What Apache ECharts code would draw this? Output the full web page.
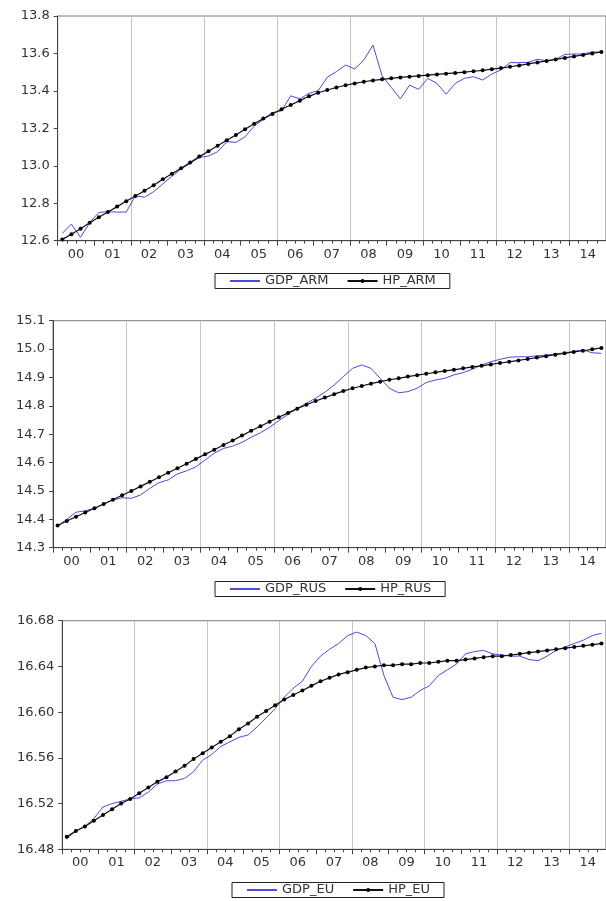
<!DOCTYPE html>
<html>
<head>
<meta charset="utf-8">
<script src="https://cdn.jsdelivr.net/npm/echarts@6/dist/echarts.min.js"></script>
<style>
html,body{margin:0;padding:0;background:#fff;}
#chart{width:606px;height:901px;}
</style>
</head>
<body>
<div id="chart"></div>
<script>
// ---- Data (quarterly, 2000Q1 .. 2014Q4) ----
const yearLabels = ['00','01','02','03','04','05','06','07','08','09','10','11','12','13','14'];

const gdpArm = [12.639,12.689,12.618,12.696,12.751,12.755,12.753,12.753,12.839,12.832,
  12.862,12.903,12.945,12.983,13.013,13.045,13.052,13.075,13.129,13.125,
  13.155,13.212,13.248,13.284,13.294,13.374,13.357,13.387,13.401,13.473,
  13.503,13.538,13.517,13.565,13.645,13.480,13.419,13.357,13.431,13.408,
  13.467,13.440,13.382,13.440,13.467,13.476,13.458,13.490,13.512,13.551,
  13.551,13.553,13.569,13.561,13.569,13.595,13.597,13.597,13.609,13.605];
const hpArm = [12.607,12.634,12.664,12.696,12.725,12.753,12.782,12.811,12.839,12.867,
  12.896,12.928,12.958,12.987,13.017,13.049,13.078,13.107,13.136,13.165,
  13.195,13.225,13.252,13.277,13.302,13.325,13.348,13.371,13.390,13.405,
  13.418,13.430,13.440,13.449,13.456,13.462,13.467,13.472,13.476,13.480,
  13.484,13.488,13.492,13.496,13.500,13.505,13.510,13.516,13.522,13.529,
  13.536,13.544,13.552,13.560,13.568,13.576,13.584,13.592,13.600,13.608];

const gdpRus = [14.376,14.400,14.425,14.430,14.439,14.454,14.468,14.476,14.474,14.486,
  14.509,14.529,14.539,14.560,14.571,14.585,14.609,14.633,14.650,14.658,
  14.671,14.689,14.705,14.724,14.748,14.770,14.791,14.809,14.827,14.848,
  14.873,14.903,14.932,14.944,14.932,14.897,14.862,14.846,14.850,14.862,
  14.882,14.891,14.897,14.909,14.917,14.929,14.944,14.955,14.964,14.971,
  14.973,14.973,14.976,14.979,14.983,14.987,14.992,14.997,14.987,14.985];
const hpRus = [14.378,14.394,14.409,14.424,14.439,14.454,14.469,14.485,14.500,14.516,
  14.532,14.548,14.564,14.580,14.596,14.613,14.629,14.645,14.662,14.678,
  14.695,14.712,14.728,14.744,14.760,14.775,14.790,14.804,14.817,14.829,
  14.841,14.852,14.862,14.870,14.878,14.885,14.892,14.897,14.903,14.908,
  14.913,14.918,14.923,14.927,14.932,14.937,14.941,14.946,14.951,14.955,
  14.960,14.965,14.970,14.975,14.980,14.985,14.990,14.994,14.999,15.004];

const gdpEu = [16.489,16.496,16.500,16.507,16.517,16.520,16.522,16.524,16.525,16.530,
  16.537,16.540,16.540,16.542,16.548,16.558,16.563,16.570,16.574,16.578,
  16.580,16.587,16.595,16.603,16.613,16.621,16.627,16.640,16.649,16.655,
  16.660,16.667,16.670,16.667,16.660,16.632,16.613,16.611,16.613,16.619,
  16.623,16.632,16.637,16.642,16.651,16.653,16.654,16.651,16.650,16.649,
  16.649,16.646,16.645,16.649,16.654,16.657,16.660,16.663,16.667,16.669];
const hpEu = [16.491,16.496,16.500,16.505,16.510,16.515,16.520,16.524,16.529,16.534,
  16.539,16.543,16.548,16.553,16.559,16.564,16.569,16.574,16.579,16.585,
  16.590,16.596,16.601,16.606,16.611,16.615,16.619,16.623,16.627,16.630,
  16.633,16.635,16.637,16.639,16.640,16.641,16.641,16.642,16.642,16.643,
  16.643,16.644,16.645,16.645,16.646,16.647,16.648,16.649,16.649,16.650,
  16.651,16.652,16.653,16.654,16.655,16.656,16.657,16.658,16.659,16.660];

const panels = [
  {gdpName:'GDP_ARM', hpName:'HP_ARM', gdp:gdpArm, hp:hpArm, yMin:12.6, yMax:13.8, yInt:0.2, dec:1},
  {gdpName:'GDP_RUS', hpName:'HP_RUS', gdp:gdpRus, hp:hpRus, yMin:14.3, yMax:15.1, yInt:0.1, dec:1},
  {gdpName:'GDP_EU',  hpName:'HP_EU',  gdp:gdpEu,  hp:hpEu,  yMin:16.48, yMax:16.68, yInt:0.04, dec:2}
];

// quarter categories built from the year labels
const quarterCats = [];
yearLabels.forEach(y => { for (let q = 1; q <= 4; q++) quarterCats.push('20' + y + 'Q' + q); });

// ---- Layout ----
const layout = [
  {grid:{left:57.7, top:16, width:557.4, height:224.7}, legend:{left:215, top:273.5}},
  {grid:{left:53, top:320.7, width:562.5, height:227}, legend:{left:215, top:581.5}},
  {grid:{left:62.2, top:620.7, width:561, height:228.6}, legend:{left:232, top:882.5}}
];

const FONT = 'DejaVu Sans';
const BLUE = '#4b4bdc';
const grids = [], xAxes = [], yAxes = [], series = [], legends = [];

panels.forEach((p, k) => {
  grids.push(Object.assign({show:true, borderColor:'#7a7a7a', borderWidth:1, backgroundColor:'#fff'}, layout[k].grid));
  // quarter axis (data axis) with quarter ticks and biennial grid lines
  xAxes.push({
    type:'category', gridIndex:k, position:'bottom', data:quarterCats, boundaryGap:true,
    axisLine:{show:true, lineStyle:{color:'#444', width:1}},
    axisTick:{show:true, interval:0, length:3, lineStyle:{color:'#444'}},
    axisLabel:{show:false},
    splitLine:{show:true, interval:(i) => i > 0 && i % 8 === 0, lineStyle:{color:'#c4c4c4', width:1}}
  });
  // year axis: labels at year centres, longer ticks at year boundaries
  xAxes.push({
    type:'category', gridIndex:k, position:'bottom', data:yearLabels, boundaryGap:true,
    axisLine:{show:false},
    axisTick:{show:true, interval:0, length:5, lineStyle:{color:'#444'}},
    axisLabel:{show:true, interval:0, margin:7, color:'#333', fontFamily:FONT, fontSize:13},
    splitLine:{show:false}
  });
  yAxes.push({
    type:'value', gridIndex:k, min:p.yMin, max:p.yMax, interval:p.yInt,
    axisLine:{show:true, lineStyle:{color:'#444', width:1}},
    axisTick:{show:true, length:4, lineStyle:{color:'#444'}},
    axisLabel:{show:true, margin:8, color:'#333', fontFamily:FONT, fontSize:13,
      formatter:(v) => v.toFixed(p.dec)},
    splitLine:{show:false}
  });
  series.push({
    type:'line', name:p.gdpName, xAxisIndex:2*k, yAxisIndex:k, data:p.gdp,
    symbol:'none', lineStyle:{color:BLUE, width:1}, itemStyle:{color:'rgba(0,0,0,0)'}, z:2
  });
  series.push({
    type:'line', name:p.hpName, xAxisIndex:2*k, yAxisIndex:k, data:p.hp,
    symbol:'circle', symbolSize:4, showSymbol:true, showAllSymbol:true,
    lineStyle:{color:'#111', width:1.2}, itemStyle:{color:'#000'}, z:3
  });
  legends.push(Object.assign({
    data:[p.gdpName, p.hpName], orient:'horizontal',
    backgroundColor:'#fff', borderColor:'#222', borderWidth:1, borderRadius:0,
    padding:[1,14], itemGap:18, itemWidth:30, itemHeight:5,
    textStyle:{color:'#333', fontFamily:FONT, fontSize:13},
    selectedMode:false
  }, layout[k].legend));
});

const chart = echarts.init(document.getElementById('chart'), null, {renderer:'canvas'});
chart.setOption({
  animation:false,
  backgroundColor:'#fff',
  grid:grids, xAxis:xAxes, yAxis:yAxes, series:series, legend:legends
});
</script>
</body>
</html>
